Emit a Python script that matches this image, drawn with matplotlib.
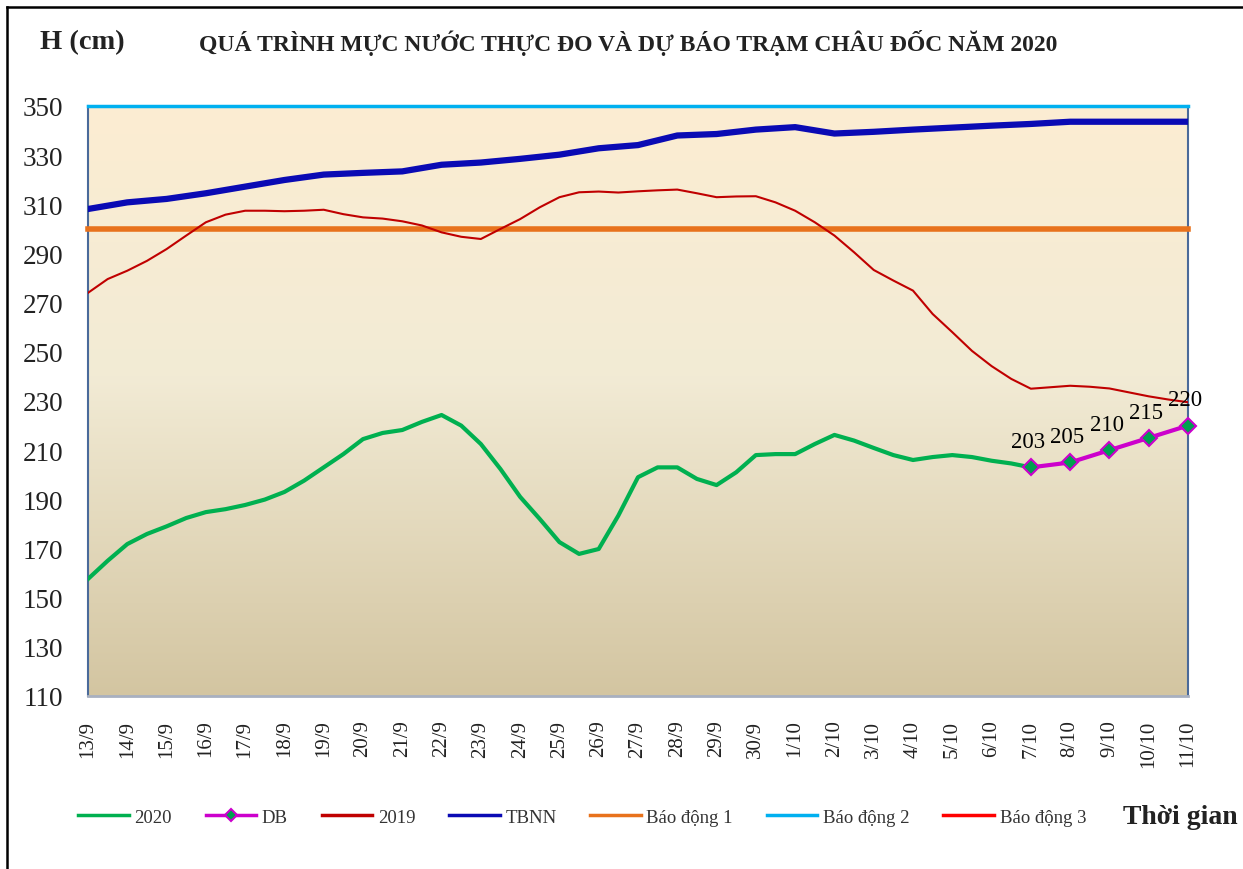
import numpy as np
import matplotlib
matplotlib.use('Agg')
import matplotlib.pyplot as plt
from matplotlib.lines import Line2D

plt.rcParams['font.family'] = ['Liberation Serif', 'DejaVu Serif']

# Ngay (truc hoanh)
dates = ['13/9', '14/9', '15/9', '16/9', '17/9', '18/9', '19/9', '20/9', '21/9',
         '22/9', '23/9', '24/9', '25/9', '26/9', '27/9', '28/9', '29/9', '30/9',
         '1/10', '2/10', '3/10', '4/10', '5/10', '6/10', '7/10', '8/10', '9/10',
         '10/10', '11/10']

# Muc nuoc 2020 thuc do (moi 12 gio, tu 13/9 den 7/10)
h2020 = [157.6, 165.0, 171.8, 175.9, 179.0, 182.4, 184.8, 186.0, 187.7, 189.9,
         193.0, 197.6, 203.0, 208.4, 214.5, 217.0, 218.2, 221.5, 224.3, 220.0,
         212.5, 202.3, 191.0, 182.0, 172.6, 167.8, 169.8, 183.4, 199.0, 203.0,
         203.0, 198.3, 195.8, 201.0, 208.0, 208.4, 208.4, 212.5, 216.2, 213.9,
         210.9, 208.0, 206.0, 207.2, 208.0, 207.2, 205.7, 204.6, 203.0]

# Du bao (DB)
db_dates = ['7/10', '8/10', '9/10', '10/10', '11/10']
db_values = [203, 205, 210, 215, 220]

# Muc nuoc 2019 (moi 12 gio)
h2019 = [274.0, 279.6, 283.0, 287.0, 291.8, 297.3, 302.7, 305.8, 307.4, 307.4,
         307.2, 307.4, 307.8, 306.0, 304.7, 304.2, 303.1, 301.4, 298.6, 296.8,
         295.9, 300.0, 304.0, 308.8, 312.9, 314.9, 315.2, 314.8, 315.3, 315.7,
         316.0, 314.5, 312.9, 313.2, 313.3, 310.8, 307.4, 302.7, 297.3, 290.5,
         283.3, 279.0, 274.9, 265.4, 258.0, 250.4, 244.2, 239.0, 235.0, 235.6,
         236.2, 235.8, 235.1, 233.5, 231.9, 230.6, 229.5]

# Trung binh nhieu nam (TBNN), theo ngay
tbnn = [308.1, 310.8, 312.2, 314.5, 317.2, 319.9, 322.1, 322.8, 323.4, 326.1,
        327.0, 328.5, 330.2, 332.8, 334.1, 338.0, 338.6, 340.4, 341.4, 338.8,
        339.5, 340.4, 341.2, 342.0, 342.7, 343.6, 343.6, 343.6, 343.6]

# Bao dong 1, 2, 3
bao_dong = [300, 350, 400]
bao_dong_names = ['Báo động 1', 'Báo động 2', 'Báo động 3']
bao_dong_colors = ['#E8721C', '#00B0F0', '#FF0000']

y_ticks = list(range(110, 351, 20))

fig = plt.figure(figsize=(12.43, 8.70), dpi=100)
ax = fig.add_axes([88 / 1243, 1 - 697 / 870, 1100 / 1243, 590 / 870])

x_last = len(dates) - 1
ax.set_xlim(0, x_last)
ax.set_ylim(110, 350)

# nen gradient
vals = np.linspace(350, 110, 400)
stops_v = [110, 240, 350]
stops_c = np.array([[211, 197, 161], [242, 235, 213], [252, 237, 210]]) / 255
grad = np.stack([np.interp(vals, stops_v, stops_c[:, k]) for k in range(3)], axis=-1)
ax.imshow(grad[:, None, :], extent=[0, x_last, 110, 350], aspect='auto', zorder=0)

x_half = np.arange(len(h2020)) * 0.5
x_half19 = np.arange(len(h2019)) * 0.5
x_day = np.arange(len(tbnn))
x_db = [dates.index(d) for d in db_dates]

l2020, = ax.plot(x_half, h2020, color='#00B050', lw=3, zorder=5, label='2020',
                 solid_joinstyle='round')
ldb, = ax.plot(x_db, db_values, color='#CC00CC', lw=3, marker='D', markersize=8,
               markerfacecolor='#00A050', markeredgecolor='#CC00CC', markeredgewidth=1.5,
               zorder=6, label='DB', clip_on=False)
l2019, = ax.plot(x_half19, h2019, color='#C00000', lw=1.5, zorder=4, label='2019',
                 solid_joinstyle='round')
ltb, = ax.plot(x_day, tbnn, color='#0A0AB4', lw=4.5, zorder=4, label='TBNN',
               solid_joinstyle='round')

bd_lines = []
lws = [4, 2.5, 2.5]
for v, name, c, lw in zip(bao_dong, bao_dong_names, bao_dong_colors, lws):
    ln, = ax.plot([0, x_last], [v, v], color=c, lw=lw, zorder=3, label=name,
                  clip_on=(v > 350))
    bd_lines.append(ln)

for x, v in zip(x_db, db_values):
    ax.annotate(str(v), (x, v), xytext=(-2, 11), textcoords='offset points',
                ha='center', va='bottom', fontsize=16.5, zorder=7)

ax.set_xticks(range(len(dates)))
ax.set_xticklabels(dates, rotation=90, fontsize=15)
ax.set_yticks(y_ticks)
ax.set_yticklabels([str(t) for t in y_ticks], fontsize=19.5)
ax.tick_params(axis='both', length=0, colors='#222222')
ax.tick_params(axis='y', pad=18)
ax.tick_params(axis='x', pad=17)

ax.spines['top'].set_visible(False)
ax.spines['left'].set_color('#4A6A9A')
ax.spines['left'].set_linewidth(1.5)
ax.spines['right'].set_color('#4A6A9A')
ax.spines['right'].set_linewidth(1.5)
ax.spines['bottom'].set_color('#A8B0C0')
ax.spines['bottom'].set_linewidth(2)

fig.text(40 / 1243, 1 - 43 / 870, 'H (cm)', fontsize=20.5, fontweight='bold',
         ha='left', va='center', color='#222222')
fig.text(628 / 1243, 1 - 43 / 870,
         'QUÁ TRÌNH MỰC NƯỚC THỰC ĐO VÀ DỰ BÁO TRẠM CHÂU ĐỐC NĂM 2020',
         fontsize=17, fontweight='bold', ha='center', va='center', color='#222222')
fig.text(1123 / 1243, 1 - 818 / 870, 'Thời gian', fontsize=20, fontweight='bold',
         ha='left', va='center', color='#222222')

handles = [l2020, ldb, l2019, ltb] + bd_lines
leg = fig.legend(handles=handles, loc='center left',
                 bbox_to_anchor=(78 / 1243, 1 - 818 / 870), ncol=7, frameon=False,
                 fontsize=13.5, handlelength=2.7, handletextpad=0.3,
                 columnspacing=1.8, borderpad=0, borderaxespad=0)
for t in leg.get_texts():
    t.set_color('#333333')
for h in leg.legend_handles:
    h.set_linewidth(2.5)
leg.legend_handles[1].set_markersize(6)

# khung ngoai
fig.add_artist(Line2D([7 / 1243, 7 / 1243], [0, 1 - 8 / 870], color='black', lw=1.8))
fig.add_artist(Line2D([7 / 1243, 1], [1 - 8 / 870, 1 - 8 / 870], color='black', lw=1.8))

fig.savefig('out.png', dpi=100)
